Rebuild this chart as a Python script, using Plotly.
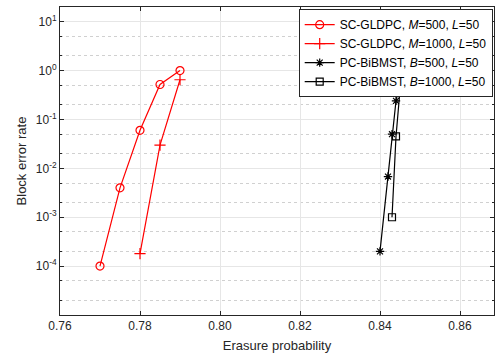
import plotly.graph_objects as go

# Data
sc500_x = [0.770, 0.775, 0.780, 0.785, 0.790]
sc500_y = [1.0e-4, 4.0e-3, 6.0e-2, 0.52, 1.0]

sc1000_x = [0.780, 0.785, 0.790]
sc1000_y = [1.8e-4, 3.0e-2, 0.65]

pc500_x = [0.840, 0.842, 0.843, 0.844, 0.845]
pc500_y = [2.0e-4, 6.8e-3, 5.0e-2, 0.24, 0.58]

pc1000_x = [0.843, 0.844, 0.845]
pc1000_y = [1.0e-3, 4.5e-2, 0.40]

names = [
    "SC-GLDPC, <i>M</i>=500, <i>L</i>=50",
    "SC-GLDPC, <i>M</i>=1000, <i>L</i>=50",
    "PC-BiBMST, <i>B</i>=500, <i>L</i>=50",
    "PC-BiBMST, <i>B</i>=1000, <i>L</i>=50",
]

x_ticks = [0.76, 0.78, 0.80, 0.82, 0.84, 0.86]
x_ticktext = ["0.76", "0.78", "0.80", "0.82", "0.84", "0.86"]
y_exps = [-4, -3, -2, -1, 0, 1]

fig = go.Figure()
series = [
    (sc500_x, sc500_y, names[0], "#ff0000", "circle-open", 8),
    (sc1000_x, sc1000_y, names[1], "#ff0000", "cross-thin-open", 8),
    (pc500_x, pc500_y, names[2], "#000000", "asterisk-open", 7),
    (pc1000_x, pc1000_y, names[3], "#000000", "square-open", 7),
]
for x, y, n, c, sym, sz in series:
    fig.add_trace(go.Scatter(
        x=x, y=y, name=n, mode="lines+markers",
        line=dict(color=c, width=1.2),
        marker=dict(symbol=sym, size=sz, color=c, line=dict(color=c, width=1.2)),
    ))

font_family = "Liberation Sans, Arial, sans-serif"
fig.update_layout(
    width=496, height=358,
    margin=dict(l=60, r=2, t=7, b=43, autoexpand=False),
    paper_bgcolor="white", plot_bgcolor="white",
    font=dict(family=font_family, size=12, color="#262626"),
    showlegend=True,
    legend=dict(
        x=0.997, y=0.993, xanchor="right", yanchor="top",
        bgcolor="white", bordercolor="#262626", borderwidth=1,
        font=dict(size=12, color="#000000"),
        tracegroupgap=0,
    ),
    xaxis=dict(
        range=[0.76, 0.8685], automargin=False,
        tickvals=x_ticks, ticktext=x_ticktext,
        ticks="inside", ticklen=4, tickcolor="#262626",
        showline=True, linecolor="#262626", linewidth=1, mirror="ticks",
        showgrid=True, gridcolor="#e6e6e6", gridwidth=1,
        zeroline=False,
        title=dict(text="Erasure probability", font=dict(size=13, color="#262626"), standoff=8),
        tickfont=dict(size=12, color="#262626"),
    ),
    yaxis=dict(
        type="log", automargin=False,
        range=[-5, 1.301],
        tickvals=[10.0 ** e for e in y_exps],
        ticktext=["10<sup>%d</sup>" % e for e in y_exps],
        ticks="inside", ticklen=4, tickcolor="#262626",
        showline=True, linecolor="#262626", linewidth=1, mirror="ticks",
        showgrid=True, gridcolor="#e6e6e6", gridwidth=1,
        zeroline=False,
        minor=dict(ticks="inside", ticklen=2, tickcolor="#262626",
                   showgrid=True, gridcolor="#d0d0d0", griddash="dot", gridwidth=1),
        title=dict(text="Block error rate", font=dict(size=13, color="#262626"), standoff=6),
        tickfont=dict(size=12, color="#262626"),
    ),
)

fig.write_html(
    "out.html",
    config={"displayModeBar": False},
    post_script="document.body.style.margin='0';document.body.style.overflow='hidden';",
)
